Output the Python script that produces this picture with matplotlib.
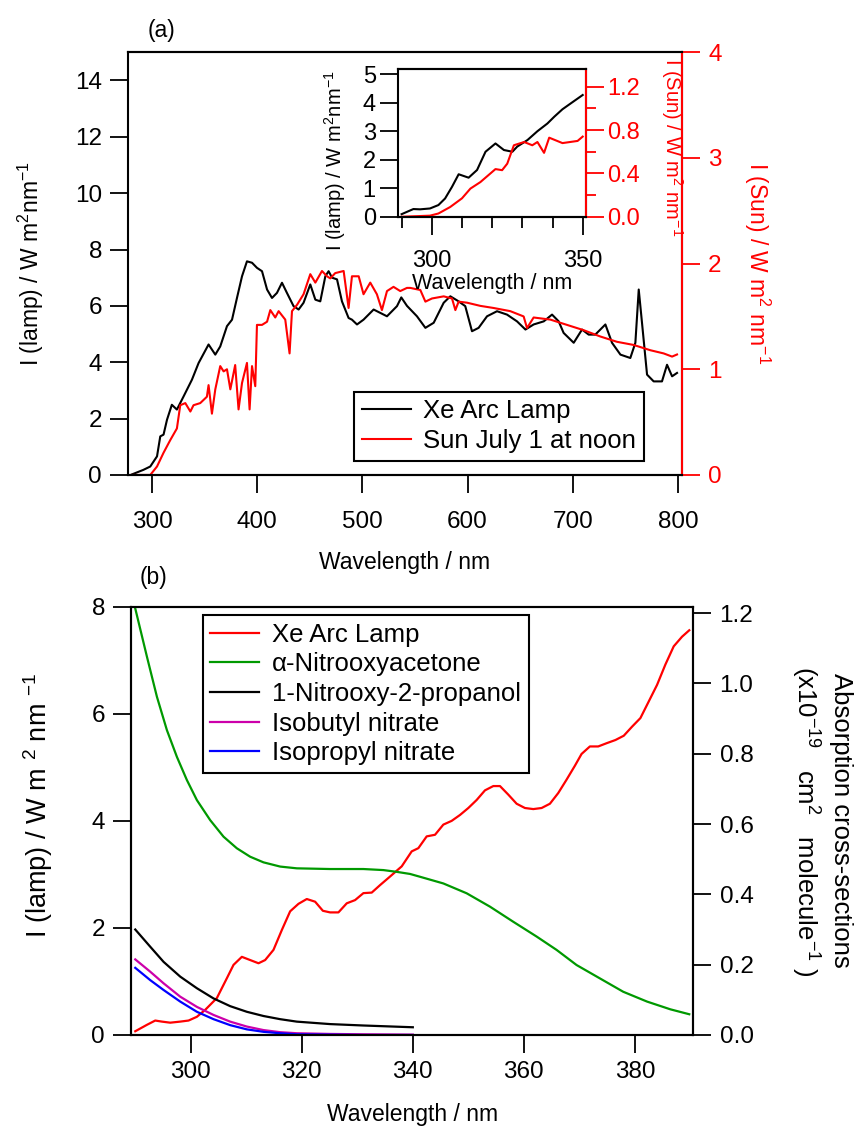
import matplotlib
matplotlib.use("Agg")
import matplotlib.pyplot as plt
from matplotlib.ticker import MultipleLocator, FormatStrFormatter

plt.rcParams['font.family'] = ['Liberation Sans', 'DejaVu Sans']
plt.rcParams['mathtext.fontset'] = 'custom'
plt.rcParams['mathtext.rm'] = 'Liberation Sans'
plt.rcParams['mathtext.it'] = 'Liberation Sans:italic'
plt.rcParams['mathtext.bf'] = 'Liberation Sans:bold'

# ---- panel (a): Xe arc lamp vs. sun spectrum ----
wl_lamp = [281, 291.8, 298.4, 304.8, 307.9, 311, 314.3, 318.9, 323.7, 330.1, 338, 344.3,
           353.8, 360.2, 364.9, 371.3, 376.1, 380.8, 385.6, 390.3, 395.1, 399.8, 404.6,
           409.4, 414.1, 418.8, 423.6, 428.3, 434.6, 439.4, 444.1, 450.5, 455.3, 460,
           464.8, 467.9, 471.2, 475.9, 480.6, 486.9, 490.1, 494.9, 501.1, 510.7, 523.4,
           532.9, 537, 542.4, 551.9, 559.9, 567.8, 577.3, 583.6, 591.5, 597.8, 604.2,
           610.5, 618.5, 628, 637.5, 647, 655, 662.8, 672.4, 680.3, 686.6, 691.3, 700.9,
           708.8, 715.1, 721.4, 731, 737.3, 745.3, 754.7, 759.5, 762.7, 765.8, 770.6,
           776.9, 784.8, 789.6, 794.4, 799.1]
lamp = [0.02, 0.18, 0.3, 0.66, 1.37, 1.43, 1.96, 2.49, 2.32, 2.79, 3.38, 3.97,
        4.63, 4.27, 4.56, 5.28, 5.51, 6.28, 7.05, 7.58, 7.53, 7.35, 7.23,
        6.58, 6.28, 6.46, 6.82, 6.46, 5.99, 5.87, 6.11, 6.76, 6.22, 6.16,
        7.05, 7.23, 7.0, 6.94, 6.16, 5.57, 5.51, 5.34, 5.51, 5.87, 5.63,
        5.99, 6.3, 6.0, 5.63, 5.22, 5.4, 6.11, 6.34, 6.16, 5.99, 5.1,
        5.22, 5.63, 5.81, 5.69, 5.45, 5.16, 5.34, 5.45, 5.69, 5.45, 5.04, 4.69,
        5.16, 4.98, 4.98, 5.34, 4.69, 4.27, 4.15, 4.69, 6.58, 5.4, 3.56,
        3.32, 3.32, 3.91, 3.5, 3.62]

wl_sun = [281, 298.4, 304.8, 311, 317.4, 323.7, 326.9, 331.7, 336.5, 339.5, 345.9, 352.2,
          353.8, 357, 360.2, 364.9, 368.1, 371.3, 374.5, 379.1, 382.3, 385.6, 390.3,
          392.8, 395.1, 398.2, 399.8, 404.6, 409.4, 412.5, 417.2, 420.4, 426.7, 430.8,
          433.1, 437.9, 444.1, 450.5, 455.3, 461.6, 466.4, 469.5, 474.2, 482.2, 486.9,
          490.1, 496.5, 501.1, 507.5, 513.8, 518.6, 523.4, 529.6, 536, 542.4, 545.5,
          555.1, 559.9, 566.2, 577.3, 585.2, 588.4, 591.5, 599.5, 612.1, 624.7, 640.6,
          653.3, 656.5, 662.8, 678.7, 694.5, 710.3, 726.2, 742, 757.9, 773.8, 786.4,
          794.4, 799.1]
sun = [0.0, 0.0, 0.08, 0.21, 0.33, 0.44, 0.66, 0.68, 0.60, 0.66, 0.68, 0.74,
       0.85, 0.58, 0.81, 1.03, 0.98, 1.0, 0.81, 1.04, 0.62, 0.87, 1.06,
       0.62, 1.03, 0.84, 1.42, 1.42, 1.45, 1.56, 1.49, 1.55, 1.47, 1.15,
       1.55, 1.61, 1.71, 1.90, 1.82, 1.93, 1.88, 1.86, 1.91, 1.93, 1.58,
       1.88, 1.88, 1.71, 1.82, 1.71, 1.56, 1.74, 1.78, 1.74, 1.77, 1.77,
       1.75, 1.64, 1.67, 1.69, 1.67, 1.56, 1.64, 1.63, 1.60, 1.58, 1.55,
       1.50, 1.39, 1.49, 1.47, 1.42, 1.37, 1.31, 1.26, 1.23, 1.18, 1.15,
       1.12, 1.14]

# inset (290-350 nm)
wl_lamp_in = [290, 293.9, 296.1, 299.4, 302.2, 304.4, 306.7, 308.9, 312.2, 315, 317.8,
              321.1, 323.9, 326.7, 328.3, 331.7, 335, 338.3, 340.6, 343.3, 346.1, 350]
lamp_in = [0.09, 0.27, 0.26, 0.29, 0.41, 0.64, 1.05, 1.49, 1.37, 1.64, 2.28,
           2.57, 2.34, 2.28, 2.46, 2.69, 3.0, 3.27, 3.51, 3.77, 3.98, 4.27]
wl_sun_in = [290, 299.4, 302.2, 306.1, 310, 312.8, 316.1, 321.1, 323.3, 325, 327.2,
             330.6, 333.3, 335, 337.2, 338.9, 343.3, 348.3, 350]
sun_in = [0.0, 0.01, 0.03, 0.09, 0.17, 0.26, 0.32, 0.44, 0.43, 0.49, 0.66,
          0.69, 0.66, 0.69, 0.59, 0.73, 0.68, 0.70, 0.74]

# ---- panel (b): lamp and absorption cross-sections ----
wl_b_lamp = [290, 292.1, 293.6, 294.8, 296.3, 298.1, 299.6, 301.1, 302.6, 304.7, 306.5,
             307.7, 309.2, 310.7, 312.2, 313.4, 314.9, 316.4, 317.9, 319.4, 320.9, 322.4,
             323.8, 325.1, 326.6, 328.1, 329.6, 331.1, 332.6, 334.1, 335.9, 338, 339.8,
             341, 342.5, 344, 345.5, 347, 348.5, 350, 351.5, 353, 354.5, 355.7, 357.2,
             358.7, 360.2, 361.7, 363.2, 364.7, 366.2, 367.7, 369.2, 370.4, 371.9, 373.4,
             374.9, 376.5, 378, 379.5, 381, 382.5, 384, 385.5, 387, 388.5, 389.8]
b_lamp = [0.07, 0.19, 0.27, 0.25, 0.23, 0.25, 0.27, 0.34, 0.47, 0.69, 1.06,
          1.31, 1.46, 1.40, 1.34, 1.40, 1.59, 1.96, 2.31, 2.45, 2.54, 2.49,
          2.32, 2.29, 2.29, 2.46, 2.52, 2.65, 2.66, 2.80, 2.96, 3.15, 3.43,
          3.49, 3.71, 3.74, 3.93, 4.00, 4.11, 4.24, 4.39, 4.57, 4.65, 4.65, 4.49,
          4.32, 4.24, 4.22, 4.24, 4.32, 4.52, 4.77, 5.03, 5.25, 5.39, 5.39,
          5.45, 5.51, 5.59, 5.76, 5.92, 6.23, 6.54, 6.92, 7.26, 7.44, 7.56]

wl_nac = [290, 292.1, 293.9, 295.7, 297.5, 299.3, 301.1, 303.5, 305.9, 308.3, 310.7,
          313.1, 316.1, 319.1, 325.1, 331.1, 334.7, 337.1, 339.5, 341.3, 345.5, 349.7,
          353.9, 358.1, 362.3, 365.9, 369.5, 373.7, 377.9, 382.2, 386.4, 389.8]
nac = [1.213, 1.076, 0.962, 0.867, 0.791, 0.725, 0.668, 0.611, 0.564, 0.531, 0.507,
       0.491, 0.479, 0.474, 0.472, 0.472, 0.469, 0.464, 0.458, 0.450, 0.431, 0.403,
       0.365, 0.322, 0.280, 0.242, 0.199, 0.161, 0.123, 0.095, 0.073, 0.059]

wl_nitrates = [290, 292.7, 295.1, 298.1, 301.1, 304.1, 307.1, 310.1, 313.1, 316.1,
               319.1, 325.1, 331.1, 340]
np2p = [0.300, 0.251, 0.208, 0.166, 0.133, 0.104, 0.082, 0.066, 0.054, 0.045,
        0.038, 0.031, 0.027, 0.022]
isobutyl = [0.215, 0.180, 0.147, 0.109, 0.080, 0.057, 0.038, 0.024, 0.014, 0.008,
            0.005, 0.003, 0.002, 0.001]
isopropyl = [0.191, 0.156, 0.128, 0.095, 0.066, 0.045, 0.028, 0.016, 0.009, 0.005,
             0.002, 0.001, 0.0, 0.0]

RED = '#ff0000'
TICK = dict(direction='out', length=13, width=1.3, labelsize=17.5)
TICK_IN = dict(direction='out', length=13, width=1.3, labelsize=17)
LEG = dict(fontsize=18.5, fancybox=False, framealpha=1, edgecolor='k',
           handlelength=1.9, handletextpad=0.5, labelspacing=0.22,
           borderpad=0.3, borderaxespad=0)


def style_spines(ax, color_right=None):
    for s in ax.spines.values():
        s.set_linewidth(1.5)
    if color_right:
        ax.spines['right'].set_color(color_right)


fig = plt.figure(figsize=(8.57, 11.33), dpi=100)

# panel (a)
ax1 = fig.add_axes([0.1497, 0.5808, 0.6457, 0.3731])
ax1.plot(wl_lamp, lamp, color='k', lw=1.5)
ax1.set_xlim(277.5, 803.5)
ax1.set_ylim(0, 15)
ax1.set_xticks(range(300, 801, 100))
ax1.set_yticks(range(0, 15, 2))
ax1.tick_params(axis='x', pad=13, **TICK)
ax1.tick_params(axis='y', pad=6, **TICK)
ax1.set_xlabel('Wavelength / nm', fontsize=16.5, labelpad=13)
ax1.set_ylabel(r'I (lamp) / W m$^{2}$nm$^{-1}$', fontsize=16.5)
ax1.yaxis.set_label_coords(-0.149, 0.5)
style_spines(ax1)

ax2 = ax1.twinx()
ax2.plot(wl_sun, sun, color=RED, lw=1.5)
ax2.set_ylim(0, 4)
ax2.set_yticks(range(0, 5))
ax2.tick_params(axis='y', colors=RED, pad=6, **TICK)
ax2.set_ylabel(r'I (Sun) / W m$^{2}$ nm$^{-1}$', fontsize=16.5, color=RED,
               rotation=270, va='bottom')
ax2.yaxis.set_label_coords(1.109, 0.5)
style_spines(ax2, RED)
ax2.spines['left'].set_visible(False)

h1 = ax1.get_lines()[0]
h2 = ax2.get_lines()[0]
leg = ax2.legend([h1, h2], ['Xe Arc Lamp', 'Sun July 1 at noon'], loc='lower left',
                 bbox_to_anchor=(0.408, 0.034), **LEG)
leg.get_frame().set_linewidth(1.5)

# inset
axi = fig.add_axes([0.4644, 0.8087, 0.2194, 0.1301])
axi.plot(wl_lamp_in, lamp_in, color='k', lw=1.5)
axi.set_xlim(288.8, 351.1)
axi.set_ylim(0, 5.17)
axi.set_xticks([300, 350])
axi.xaxis.set_minor_locator(MultipleLocator(10))
axi.set_yticks(range(0, 6))
axi.tick_params(axis='x', which='major', pad=11, **TICK_IN)
axi.tick_params(axis='x', which='minor', direction='out', length=8, width=1.3)
axi.tick_params(axis='y', pad=3, **TICK_IN)
axi.set_xlabel('Wavelength / nm', fontsize=15.5, labelpad=1)
axi.set_ylabel(r'I (lamp) / W m$^{2}$nm$^{-1}$', fontsize=14.5)
axi.yaxis.set_label_coords(-0.266, 0.38)
style_spines(axi)

axi2 = axi.twinx()
axi2.plot(wl_sun_in, sun_in, color=RED, lw=1.5)
axi2.set_ylim(0, 1.361)
axi2.yaxis.set_major_locator(MultipleLocator(0.4))
axi2.yaxis.set_minor_locator(MultipleLocator(0.2))
axi2.yaxis.set_major_formatter(FormatStrFormatter('%.1f'))
axi2.tick_params(axis='y', which='major', colors=RED, pad=2, **TICK_IN)
axi2.tick_params(axis='y', which='minor', colors=RED, direction='out', length=7, width=1.3)
axi2.set_ylabel(r'I (Sun) / W m$^{2}$ nm$^{-1}$', fontsize=14.5, color=RED,
                rotation=270, va='bottom')
axi2.yaxis.set_label_coords(1.388, 0.47)
style_spines(axi2, RED)
axi2.spines['left'].set_visible(False)

fig.text(0.1887, 0.9735, '(a)', fontsize=16.5, ha='center', va='center')

# panel (b)
axb = fig.add_axes([0.1533, 0.0865, 0.6555, 0.378])
lb1, = axb.plot(wl_b_lamp, b_lamp, color=RED, lw=1.6)
axb.set_xlim(289.3, 390.5)
axb.set_ylim(0, 8)
axb.set_xticks(range(300, 381, 20))
axb.set_yticks(range(0, 9, 2))
axb.tick_params(axis='x', pad=6, **TICK)
axb.tick_params(axis='y', pad=6, **TICK)
axb.set_xlabel('Wavelength / nm', fontsize=16.5, labelpad=14)
axb.set_ylabel(r'I (lamp) / W m $^{2}$ nm $^{-1}$', fontsize=19.5)
axb.yaxis.set_label_coords(-0.136, 0.537)
style_spines(axb)

axb2 = axb.twinx()
lb2, = axb2.plot(wl_nac, nac, color='#009900', lw=1.6)
lb3, = axb2.plot(wl_nitrates, np2p, color='k', lw=1.6)
lb4, = axb2.plot(wl_nitrates, isobutyl, color='#cc00aa', lw=1.6)
lb5, = axb2.plot(wl_nitrates, isopropyl, color='#0000ff', lw=1.6)
axb2.set_ylim(0, 1.218)
axb2.yaxis.set_major_locator(MultipleLocator(0.2))
axb2.yaxis.set_major_formatter(FormatStrFormatter('%.1f'))
axb2.tick_params(axis='y', pad=6, **TICK)
axb2.set_ylabel('Absorption cross-sections\n'
                r'(x10$^{-19}$   cm$^{2}$   molecule$^{-1}$ )',
                fontsize=18.5, rotation=270, va='bottom', ha='center',
                multialignment='center', linespacing=1.3)
axb2.yaxis.set_label_coords(1.1705, 0.5)
style_spines(axb2)

legb = axb2.legend([lb1, lb2, lb3, lb4, lb5],
                   ['Xe Arc Lamp', '\u03b1-Nitrooxyacetone', '1-Nitrooxy-2-propanol',
                    'Isobutyl nitrate', 'Isopropyl nitrate'],
                   loc='upper left', bbox_to_anchor=(0.127, 0.9806), **LEG)
legb.get_frame().set_linewidth(1.5)

fig.text(0.179, 0.49, '(b)', fontsize=16.5, ha='center', va='center')

fig.savefig('out.png', dpi=100)
